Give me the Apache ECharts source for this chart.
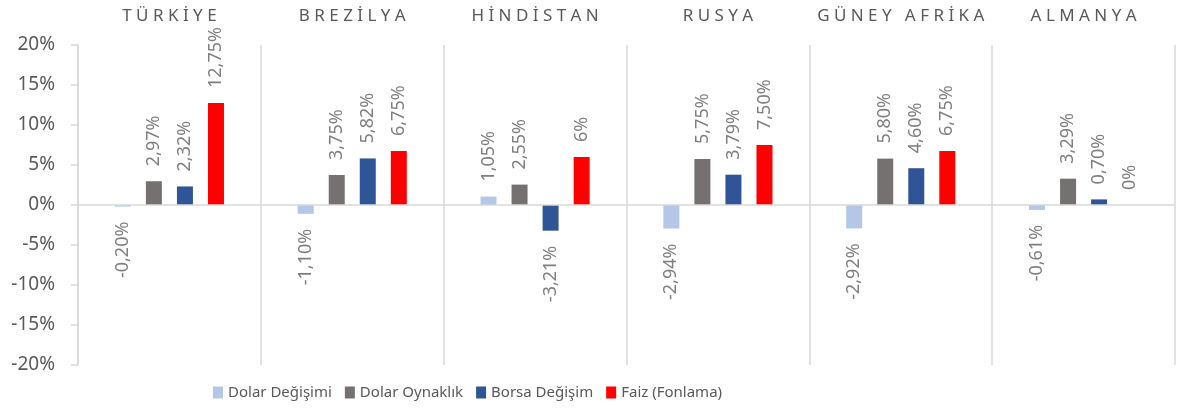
<!DOCTYPE html>
<html>
<head>
<meta charset="utf-8">
<script src="https://cdn.jsdelivr.net/npm/echarts@6/dist/echarts.min.js"></script>
<style>
html,body{margin:0;padding:0;background:#fff;}
#chart{width:1178px;height:408px;}
</style>
</head>
<body>
<div id="chart"></div>
<script>
const categories = ['TÜRKİYE', 'BREZİLYA', 'HİNDİSTAN', 'RUSYA', 'GÜNEY AFRİKA', 'ALMANYA'];
const seriesNames = ['Dolar Değişimi', 'Dolar Oynaklık', 'Borsa Değişim', 'Faiz (Fonlama)'];
const dolarDegisimi = [-0.20, -1.10, 1.05, -2.94, -2.92, -0.61];
const dolarOynaklik = [2.97, 3.75, 2.55, 5.75, 5.80, 3.29];
const borsaDegisim = [2.32, 5.82, -3.21, 3.79, 4.60, 0.70];
const faizFonlama = [12.75, 6.75, 6, 7.50, 6.75, 0];
const yTicks = { min: -20, max: 20, interval: 5 };

const colors = ['#b4c7e7', '#767171', '#2f5597', '#ff0000'];
const FONT = 'Noto Sans';

function fmt(v) {
  const s = Number.isInteger(v) ? String(v) : v.toFixed(2);
  return s.replace('.', ',') + '%';
}

function makeData(arr) {
  return arr.map(v => ({
    value: v,
    label: v < 0
      ? { position: 'bottom', align: 'right' }
      : { position: 'top', align: 'left' }
  }));
}

const allSeries = [dolarDegisimi, dolarOynaklik, borsaDegisim, faizFonlama].map((arr, i) => {
  const s = {
    name: seriesNames[i],
    type: 'bar',
    barWidth: 16,
    barGap: '94%',
    data: makeData(arr),
    itemStyle: { color: colors[i] },
    label: {
      show: true,
      rotate: 90,
      distance: 15,
      verticalAlign: 'middle',
      color: '#7f7f7f',
      fontFamily: FONT,
      fontSize: 18,
      formatter: p => fmt(p.value)
    }
  };
  if (i === 0) {
    s.markLine = {
      silent: true,
      symbol: 'none',
      label: { show: false },
      lineStyle: { color: '#d9d9d9', width: 1.5, type: 'solid' },
      data: [{ yAxis: 0 }]
    };
  }
  return s;
});

const chart = echarts.init(document.getElementById('chart'));
chart.setOption({
  animation: false,
  grid: { left: 78, right: 3, top: 45, bottom: 43 },
  legend: {
    bottom: 3,
    left: 208,
    itemWidth: 10,
    itemHeight: 12,
    itemGap: 13,
    icon: 'rect',
    textStyle: { color: '#595959', fontFamily: FONT, fontSize: 15 },
    data: seriesNames
  },
  xAxis: {
    type: 'category',
    position: 'top',
    data: categories,
    axisLine: { show: false },
    axisTick: { show: false },
    axisLabel: {
      interval: 0,
      color: '#595959',
      fontFamily: FONT,
      fontSize: 17,
      margin: 20,
      formatter: v => v.split('').join(' ')
    },
    splitLine: { show: true, interval: 0, lineStyle: { color: '#d9d9d9', width: 1.5 } }
  },
  yAxis: {
    type: 'value',
    min: yTicks.min,
    max: yTicks.max,
    interval: yTicks.interval,
    axisLine: { show: true, lineStyle: { color: '#d9d9d9', width: 1.5 } },
    axisTick: { show: true, length: 7, lineStyle: { color: '#d9d9d9', width: 1.5 } },
    splitLine: { show: false },
    axisLabel: {
      color: '#595959',
      fontFamily: FONT,
      fontSize: 19,
      margin: 23,
      formatter: '{value}%'
    }
  },
  series: allSeries
});
</script>
</body>
</html>
